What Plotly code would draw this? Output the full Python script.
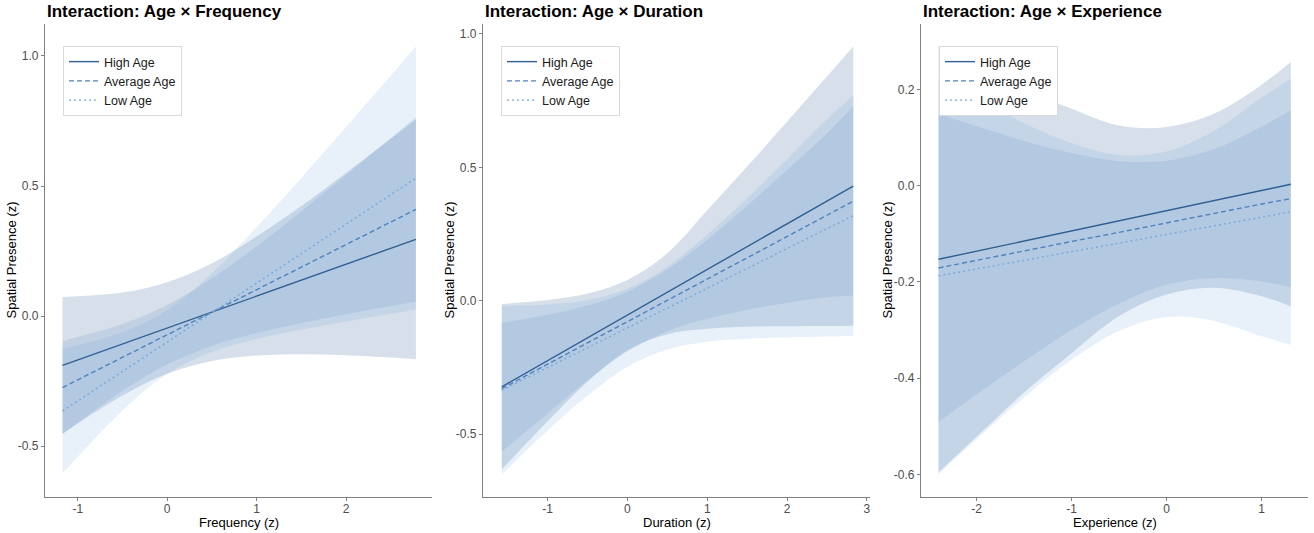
import plotly.graph_objects as go

# ---------------- data ----------------
series_names = ["High Age", "Average Age", "Low Age"]

freq_x = [-1.17, -0.5, 0, 0.5, 1, 1.5, 2, 2.5, 2.78]
freq_high = [-0.19, -0.108, -0.046, 0.015, 0.077, 0.138, 0.200, 0.261, 0.295]
freq_high_lo = [-0.453, -0.306, -0.222, -0.173, -0.152, -0.147, -0.151, -0.160, -0.166]
freq_high_hi = [0.073, 0.090, 0.130, 0.203, 0.306, 0.423, 0.551, 0.682, 0.756]
freq_avg = [-0.275, -0.159, -0.072, 0.015, 0.101, 0.188, 0.275, 0.362, 0.410]
freq_avg_lo = [-0.454, -0.287, -0.186, -0.115, -0.066, -0.027, 0.007, 0.039, 0.055]
freq_avg_hi = [-0.096, -0.031, 0.042, 0.145, 0.268, 0.403, 0.543, 0.685, 0.765]
freq_low = [-0.365, -0.213, -0.100, 0.013, 0.127, 0.240, 0.353, 0.467, 0.530]
freq_low_lo = [-0.605, -0.364, -0.222, -0.138, -0.088, -0.052, -0.021, 0.009, 0.024]
freq_low_hi = [-0.125, -0.062, 0.022, 0.164, 0.342, 0.532, 0.727, 0.925, 1.036]

dur_x = [-1.575, -1, -0.5, 0, 0.5, 1, 1.5, 2, 2.5, 2.83]
dur_high = [-0.3225, -0.224, -0.138, -0.0535, 0.032, 0.117, 0.203, 0.288, 0.373, 0.430]
dur_high_lo = [-0.632, -0.451, -0.303, -0.185, -0.125, -0.105, -0.097, -0.095, -0.094, -0.093]
dur_high_hi = [-0.012, 0.003, 0.027, 0.078, 0.178, 0.339, 0.503, 0.671, 0.840, 0.953]
dur_avg = [-0.329, -0.237, -0.158, -0.078, 0.002, 0.081, 0.161, 0.241, 0.320, 0.373]
dur_avg_lo = [-0.565, -0.422, -0.298, -0.190, -0.114, -0.067, -0.034, -0.008, 0.013, 0.020]
dur_avg_hi = [-0.082, -0.052, -0.018, 0.034, 0.118, 0.229, 0.356, 0.490, 0.627, 0.730]
dur_low = [-0.335, -0.250, -0.177, -0.101, -0.027, 0.047, 0.121, 0.196, 0.270, 0.319]
dur_low_lo = [-0.651, -0.486, -0.356, -0.247, -0.182, -0.153, -0.142, -0.137, -0.134, -0.131]
dur_low_hi = [-0.019, -0.014, 0.002, 0.045, 0.128, 0.247, 0.384, 0.530, 0.680, 0.769]

exp_x = [-2.4, -2, -1.5, -1, -0.5, 0, 0.5, 1, 1.306]
exp_high = [-0.153, -0.136, -0.115, -0.094, -0.073, -0.052, -0.031, -0.010, 0.003]
exp_high_lo = [-0.596, -0.522, -0.430, -0.348, -0.271, -0.226, -0.212, -0.230, -0.251]
exp_high_hi = [0.290, 0.250, 0.200, 0.160, 0.125, 0.122, 0.150, 0.210, 0.257]
exp_avg = [-0.171, -0.155, -0.136, -0.116, -0.097, -0.077, -0.058, -0.038, -0.027]
exp_avg_lo = [-0.491, -0.434, -0.365, -0.300, -0.245, -0.206, -0.192, -0.199, -0.211]
exp_avg_hi = [0.149, 0.124, 0.093, 0.068, 0.051, 0.052, 0.076, 0.123, 0.157]
exp_low = [-0.1875, -0.173, -0.155, -0.137, -0.119, -0.101, -0.083, -0.065, -0.0545]
exp_low_lo = [-0.600, -0.527, -0.440, -0.362, -0.302, -0.273, -0.281, -0.313, -0.331]
exp_low_hi = [0.225, 0.181, 0.130, 0.088, 0.064, 0.071, 0.114, 0.183, 0.222]

titles = ["Interaction: Age × Frequency", "Interaction: Age × Duration", "Interaction: Age × Experience"]
x_titles = ["Frequency (z)", "Duration (z)", "Experience (z)"]
y_title = "Spatial Presence (z)"

freq_xticks = [-1, 0, 1, 2]
freq_yticks = [-0.5, 0.0, 0.5, 1.0]
dur_xticks = [-1, 0, 1, 2, 3]
dur_yticks = [-0.5, 0.0, 0.5, 1.0]
exp_xticks = [-2, -1, 0, 1]
exp_yticks = [-0.6, -0.4, -0.2, 0.0, 0.2]

# ---------------- styling ----------------
W, H = 1314, 533
line_colors = ["#2F5F93", "#4F82BE", "#76AADC"]
line_dash = ["solid", "5px,3px", "2px,3px"]
fill_colors = ["rgba(70,110,160,0.22)", "rgba(74,126,187,0.15)", "rgba(100,160,220,0.15)"]
tick_grey = "#4D4D4D"

panels = [
    dict(x=freq_x, mid=[freq_high, freq_avg, freq_low],
         lo=[freq_high_lo, freq_avg_lo, freq_low_lo], hi=[freq_high_hi, freq_avg_hi, freq_low_hi],
         xr=[-1.366, 2.96], yr=[-0.696, 1.123], xt=freq_xticks, yt=freq_yticks,
         px=(45, 432)),
    dict(x=dur_x, mid=[dur_high, dur_avg, dur_low],
         lo=[dur_high_lo, dur_avg_lo, dur_low_lo], hi=[dur_high_hi, dur_avg_hi, dur_low_hi],
         xr=[-1.81, 3.04], yr=[-0.735, 1.037], xt=dur_xticks, yt=dur_yticks,
         px=(483, 870)),
    dict(x=exp_x, mid=[exp_high, exp_avg, exp_low],
         lo=[exp_high_lo, exp_avg_lo, exp_low_lo], hi=[exp_high_hi, exp_avg_hi, exp_low_hi],
         xr=[-2.584, 1.487], yr=[-0.647, 0.336], xt=exp_xticks, yt=exp_yticks,
         px=(921, 1308)),
]

plot_top, plot_bottom = 24, 497
ydom = [(H - plot_bottom) / H, (H - plot_top) / H]

fig = go.Figure()
layout = dict(template="none", width=W, height=H, margin=dict(l=0, r=0, t=0, b=0, pad=0),
              paper_bgcolor="white", plot_bgcolor="white",
              font=dict(family="Liberation Sans, Arial, sans-serif", size=12, color=tick_grey),
              annotations=[])

def fmt(v):
    return "{:.1f}".format(v)

for i, p in enumerate(panels):
    ax = "" if i == 0 else str(i + 1)
    xa, ya = "x" + ax, "y" + ax
    leg = "legend" if i == 0 else "legend" + str(i + 1)
    for k in range(3):
        fig.add_trace(go.Scatter(x=p["x"], y=p["lo"][k], mode="lines", line=dict(width=0, shape="spline"),
                                 hoverinfo="skip", showlegend=False, xaxis=xa, yaxis=ya))
        fig.add_trace(go.Scatter(x=p["x"], y=p["hi"][k], mode="lines", line=dict(width=0, shape="spline"),
                                 fill="tonexty", fillcolor=fill_colors[k],
                                 hoverinfo="skip", showlegend=False, xaxis=xa, yaxis=ya))
    for k in range(3):
        fig.add_trace(go.Scatter(x=p["x"], y=p["mid"][k], mode="lines", name=series_names[k],
                                 line=dict(color=line_colors[k], width=1.4, dash=line_dash[k]),
                                 xaxis=xa, yaxis=ya, legend=leg))
    xdom = [p["px"][0] / W, p["px"][1] / W]
    axis_common = dict(color=tick_grey, showline=True, linecolor="#808080", linewidth=1.2, ticks="outside",
                       tickcolor="#808080", ticklen=3, tickwidth=1, showgrid=False, zeroline=False,
                       tickfont=dict(size=12, color=tick_grey,
                                     family="Liberation Sans, Arial, sans-serif"), mirror=False)
    layout["xaxis" + ax] = dict(domain=xdom, range=p["xr"], anchor=ya, tickvals=p["xt"],
                                ticktext=[str(t) for t in p["xt"]], ticklabelstandoff=-3, **axis_common)
    layout["yaxis" + ax] = dict(domain=ydom, range=p["yr"], anchor=xa, tickvals=p["yt"],
                                ticktext=[fmt(t) for t in p["yt"]], **axis_common)
    layout[leg] = dict(x=(p["px"][0] + 18) / W, y=(H - 46) / H, xanchor="left", yanchor="top",
                       bgcolor="white", bordercolor="#D9D9D9", borderwidth=1,
                       font=dict(size=12.5, color="#1a1a1a"), tracegroupgap=0,
                       itemwidth=30, traceorder="normal")
    # title
    layout["annotations"].append(dict(text="<b>" + titles[i] + "</b>", xref="paper", yref="paper",
                                      x=p["px"][0] / W, y=(H - 12) / H, xanchor="left", yanchor="middle",
                                      showarrow=False, font=dict(size=17, color="black")))
    # x title
    layout["annotations"].append(dict(text=x_titles[i], xref="paper", yref="paper",
                                      x=(p["px"][0] + p["px"][1]) / 2 / W, y=(H - 522) / H,
                                      xanchor="center", yanchor="middle", showarrow=False,
                                      font=dict(size=13, color="black")))
    # y title
    layout["annotations"].append(dict(text=y_title, xref="paper", yref="paper",
                                      x=(p["px"][0] - 34) / W, y=(H - (plot_top + plot_bottom) / 2) / H,
                                      xanchor="center", yanchor="middle", textangle=-90, showarrow=False,
                                      font=dict(size=13, color="black")))

fig.update_layout(**layout)
fig.write_html("out.html", config={"displayModeBar": False},
               post_script="document.body.style.margin='0px';document.body.style.overflow='hidden';")
